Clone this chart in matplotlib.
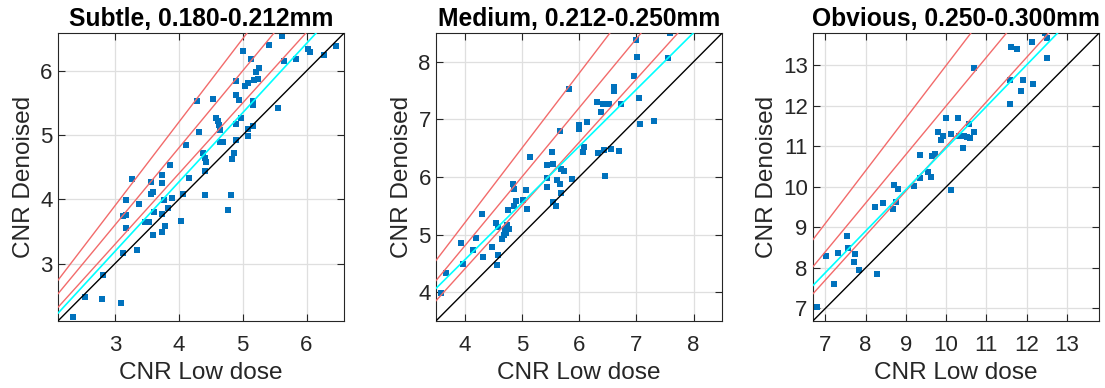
import numpy as np
import matplotlib
matplotlib.use("Agg")
import matplotlib.pyplot as plt

plt.rcParams['font.family'] = ['Liberation Sans', 'DejaVu Sans']

# ---------------- data ----------------
titles = ["Subtle, 0.180-0.212mm", "Medium, 0.212-0.250mm", "Obvious, 0.250-0.300mm"]

subtle_low = [2.34, 2.53, 2.80, 2.81, 3.09, 3.13, 3.12, 3.18, 3.18, 3.18, 3.27, 3.35, 3.37,
              3.47, 3.53, 3.56, 3.56, 3.60, 3.60, 3.62, 3.74, 3.73, 3.73, 3.73, 3.77, 3.78,
              3.83, 3.86, 3.90, 4.03, 4.06, 4.11, 4.16, 4.28, 4.31, 4.38, 4.41, 4.42, 4.41,
              4.41, 4.53, 4.58, 4.62, 4.64, 4.63, 4.65, 4.69, 4.77, 4.82, 4.83, 4.86, 4.89,
              4.89, 4.89, 4.89, 4.94, 4.97, 5.01, 5.04, 5.08, 5.08, 5.09, 5.13, 5.17, 5.16,
              5.16, 5.18, 5.21, 5.24, 5.26, 5.42, 5.56, 5.62, 5.65, 5.84, 6.03, 6.05, 6.28, 6.46]
subtle_den = [2.17, 2.48, 2.45, 2.83, 2.39, 3.17, 3.74, 3.76, 3.99, 3.56, 4.32, 3.21, 3.93,
              3.65, 3.65, 4.08, 4.27, 4.11, 3.45, 3.81, 4.38, 4.25, 3.78, 3.50, 3.99, 3.59,
              3.87, 4.54, 4.02, 3.67, 4.09, 4.84, 4.33, 5.53, 5.05, 4.72, 4.64, 4.58, 4.07,
              4.44, 5.57, 5.26, 5.22, 5.08, 5.16, 4.90, 4.90, 3.83, 4.07, 4.63, 4.73, 5.84,
              5.62, 5.17, 4.93, 5.54, 5.27, 6.31, 5.76, 5.81, 5.10, 4.99, 6.19, 5.53, 5.47,
              5.15, 5.86, 5.99, 5.88, 6.05, 6.41, 5.42, 6.55, 6.16, 6.19, 6.34, 6.30, 6.25, 6.38]

medium_low = [3.58, 3.68, 3.94, 3.97, 4.15, 4.20, 4.31, 4.32, 4.47, 4.55, 4.56, 4.59, 4.58,
              4.66, 4.68, 4.71, 4.74, 4.72, 4.77, 4.76, 4.84, 4.87, 4.87, 4.90, 5.02, 5.08,
              5.09, 5.15, 5.44, 5.44, 5.44, 5.53, 5.55, 5.55, 5.60, 5.62, 5.67, 5.67, 5.69,
              5.68, 5.73, 5.83, 5.88, 6.00, 6.00, 6.06, 6.09, 6.14, 6.32, 6.33, 6.38, 6.41,
              6.43, 6.46, 6.52, 6.55, 6.61, 6.61, 6.70, 6.74, 6.95, 6.99, 7.01, 7.04, 7.07,
              7.30, 7.55, 7.59]
medium_den = [3.98, 4.34, 4.86, 4.49, 4.73, 4.94, 5.35, 4.61, 4.79, 5.20, 4.47, 4.64, 5.13,
              4.92, 5.00, 5.09, 5.17, 5.02, 5.09, 5.42, 5.87, 5.79, 5.49, 5.59, 5.60, 5.77,
              5.45, 6.35, 5.98, 5.83, 6.21, 6.43, 6.23, 5.56, 5.49, 5.95, 6.79, 5.87, 6.14,
              5.72, 6.10, 7.53, 5.97, 6.83, 6.91, 6.44, 6.52, 6.96, 7.30, 6.42, 7.13, 7.27,
              6.46, 6.02, 7.27, 6.49, 7.49, 7.56, 6.45, 7.27, 7.76, 8.38, 8.08, 7.37, 6.92,
              6.98, 8.06, 8.50]

obvious_low = [6.78, 7.01, 7.21, 7.32, 7.54, 7.56, 7.73, 7.72, 7.83, 8.23, 8.29, 8.43, 8.68,
               8.70, 8.76, 8.80, 9.21, 9.34, 9.34, 9.56, 9.62, 9.65, 9.71, 9.79, 9.87, 9.93,
               9.99, 10.13, 10.11, 10.29, 10.31, 10.42, 10.45, 10.51, 10.57, 10.58, 10.68,
               10.69, 11.58, 11.58, 11.62, 11.77, 11.87, 11.90, 12.12, 12.15, 12.46, 12.51, 12.51]
obvious_den = [7.03, 8.30, 7.59, 8.36, 8.78, 8.48, 8.34, 8.15, 7.94, 9.49, 7.86, 9.61, 9.45,
               10.05, 9.63, 9.95, 10.03, 10.22, 10.78, 10.37, 10.25, 10.77, 10.81, 11.35, 11.15,
               11.26, 11.71, 9.91, 11.30, 11.69, 11.26, 10.96, 11.26, 11.24, 11.55, 11.21, 11.35,
               12.94, 12.65, 12.04, 13.46, 13.40, 12.37, 12.63, 13.58, 12.55, 13.81, 13.68, 13.19]

# axis limits (square), ticks
limits = [(2.11, 6.59), (3.50, 8.50), (6.69, 13.80)]
ticks = [[3, 4, 5, 6], [4, 5, 6, 7, 8], [7, 8, 9, 10, 11, 12, 13]]

# reference lines y = k*x (10%, 20%, 30% improvement) and fitted lines (slope, intercept)
ref_slopes = [1.1, 1.2, 1.3]
fit_slope = [1.079, 0.987, 1.026]
fit_icpt = [-0.047, 0.61, 0.70]

lows = [subtle_low, medium_low, obvious_low]
dens = [subtle_den, medium_den, obvious_den]

# ---------------- plot ----------------
fig = plt.figure(figsize=(11.05, 3.88), dpi=100)
lefts = [0.0525, 0.3946, 0.7357]
w, h, b = 0.259, 0.742, 0.173

blue = '#0072BD'
red = '#F26B6B'
txt = '#262626'

for i in range(3):
    ax = fig.add_axes([lefts[i], b, w, h])
    lo, hi = limits[i]
    xs = np.array([lo, hi])
    ax.plot(np.array(lows[i]), np.array(dens[i]), 's', ms=4.6, color=blue, mec=blue,
            mew=0, zorder=2, clip_on=True)
    ax.plot(xs, xs, color='black', lw=1.0, zorder=3)
    for k in ref_slopes:
        ax.plot(xs, k * xs, color=red, lw=1.0, zorder=3)
    ax.plot(xs, fit_slope[i] * xs + fit_icpt[i], color='cyan', lw=1.2, zorder=3)
    ax.set_xlim(lo, hi)
    ax.set_ylim(lo, hi)
    ax.set_xticks(ticks[i])
    ax.set_yticks(ticks[i])
    ax.grid(True, color='#dfdfdf', lw=0.9)
    ax.set_axisbelow(True)
    ax.tick_params(direction='in', top=True, right=True, length=5, width=0.8,
                   labelsize=16, colors=txt)
    ax.tick_params(axis='x', pad=10.4)
    ax.tick_params(axis='y', pad=3.8)
    for s in ax.spines.values():
        s.set_color(txt)
        s.set_linewidth(0.8)
    ax.set_xlabel('CNR Low dose', fontsize=17.6, color=txt, labelpad=4.4)
    ax.set_ylabel('CNR Denoised', fontsize=17.6, color=txt, labelpad=3.6)
    ax.set_title(titles[i], fontsize=17.7, fontweight='bold', color='black', pad=4.8)

fig.savefig('out.png', dpi=100)
